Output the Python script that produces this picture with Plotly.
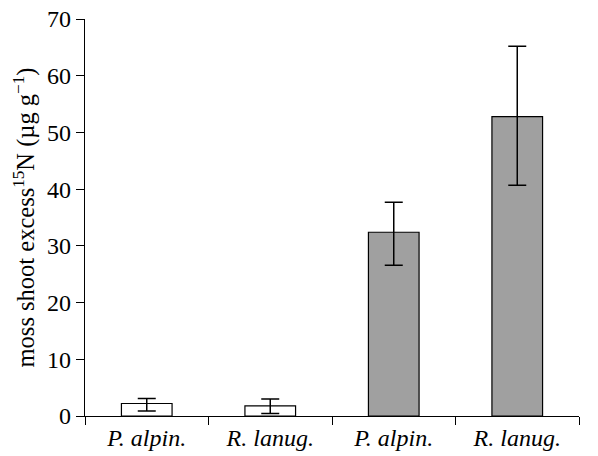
import plotly.graph_objects as go

categories = ["P. alpin.", "R. lanug.", "P. alpin.", "R. lanug."]
values = [2.2, 1.8, 32.4, 52.8]
err_plus = [0.9, 1.2, 5.3, 12.4]
err_minus = [1.3, 1.35, 5.8, 12.1]
bar_colors = ["#ffffff", "#ffffff", "#a0a0a0", "#a0a0a0"]
y_ticks = [0, 10, 20, 30, 40, 50, 60, 70]

x_pos = list(range(len(categories)))
boundaries = [i - 0.5 for i in range(len(categories) + 1)]

fig = go.Figure()
fig.add_trace(go.Bar(
    x=x_pos,
    y=values,
    width=0.41,
    marker=dict(color=bar_colors, line=dict(color="#000000", width=1.2)),
    error_y=dict(type="data", symmetric=False, array=err_plus, arrayminus=err_minus,
                 color="#000000", thickness=1.5, width=9),
    showlegend=False,
))

font_family = "Liberation Serif, Times New Roman, serif"
fig.update_layout(
    width=598, height=456,
    margin=dict(l=85, r=19, t=19, b=40),
    plot_bgcolor="white", paper_bgcolor="white",
    font=dict(family=font_family, size=24, color="#000000"),
)
fig.update_xaxes(
    range=[-0.5, len(categories) - 0.5],
    tickvals=x_pos,
    ticktext=["<i>%s</i>" % c for c in categories],
    ticks="",
    showline=True, linecolor="#000000", linewidth=1.2,
    showgrid=False, zeroline=False,
    tickfont=dict(size=24),
    minor=dict(tickvals=boundaries, ticks="outside", ticklen=8, tickcolor="#000000", tickwidth=1.2, showgrid=False),
    automargin=False,
)
fig.update_yaxes(
    range=[0, 70],
    tickvals=y_ticks,
    ticks="outside", ticklen=8, tickcolor="#000000", tickwidth=1.2,
    showline=True, linecolor="#000000", linewidth=1.2,
    showgrid=False, zeroline=False,
    tickfont=dict(size=24),
    title=dict(text="moss shoot excess<sup>15</sup>N (µg g<sup>−1</sup>)", font=dict(size=24.5), standoff=5),
    automargin=False,
)
fig.write_html("out.html", config={"displayModeBar": False},
               post_script="document.body.style.margin='0';")
